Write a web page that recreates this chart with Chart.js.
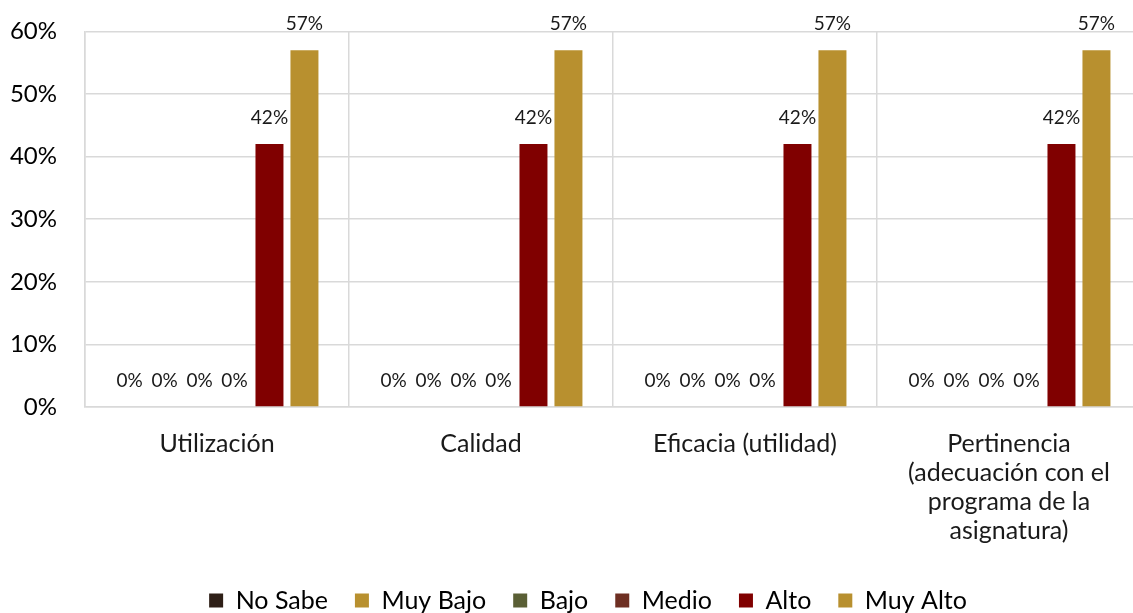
<!DOCTYPE html>
<html>
<head>
<meta charset="utf-8">
<script src="https://cdn.jsdelivr.net/npm/chart.js@4.4.1/dist/chart.umd.min.js"></script>
<style>
  html, body { margin: 0; padding: 0; background: #fff; overflow: hidden; }
  #wrap { width: 1176px; height: 634px; margin-top: -11px; }
</style>
</head>
<body>
<div id="wrap"><canvas id="chart"></canvas></div>
<script>
const categories = [
  'Utilización',
  'Calidad',
  'Eficacia (utilidad)',
  ['Pertinencia', '(adecuación con el', 'programa de la', 'asignatura)']
]
const seriesNames = ['No Sabe', 'Muy Bajo', 'Bajo', 'Medio', 'Alto', 'Muy Alto']
const noSabe = [0, 0, 0, 0]
const muyBajo = [0, 0, 0, 0]
const bajo = [0, 0, 0, 0]
const medio = [0, 0, 0, 0]
const alto = [0.42, 0.42, 0.42, 0.42]
const muyAlto = [0.57, 0.57, 0.57, 0.57]
const yTicks = [0, 0.1, 0.2, 0.3, 0.4, 0.5, 0.6]

const colors = ['#2e1f17', '#b8902f', '#5a5f35', '#6e2f22', '#800000', '#b8902f']
const FONT = 'Lato, "Open Sans", sans-serif'
const TEXT = '#1a1a1a'

const valueLabels = {
  id: 'valueLabels',
  afterDatasetsDraw(chart) {
    const ctx = chart.ctx
    ctx.save()
    ctx.font = `19px ${FONT}`
    ctx.fillStyle = TEXT
    ctx.textAlign = 'center'
    ctx.textBaseline = 'middle'
    chart.data.datasets.forEach((ds, i) => {
      chart.getDatasetMeta(i).data.forEach((bar, j) => {
        ctx.fillText(Math.round(ds.data[j] * 100) + '%', bar.x, bar.y - 26)
      })
    })
    ctx.restore()
  }
}

const seriesData = [noSabe, muyBajo, bajo, medio, alto, muyAlto]

new Chart(document.getElementById('chart'), {
  type: 'bar',
  data: {
    labels: categories,
    datasets: seriesNames.map((name, i) => ({
      label: name,
      data: seriesData[i],
      backgroundColor: colors[i],
      barPercentage: 0.8,
      categoryPercentage: 0.795
    }))
  },
  plugins: [valueLabels],
  options: {
    responsive: true,
    maintainAspectRatio: false,
    animation: false,
    layout: { padding: { top: 13, left: 0, right: 0, bottom: 0 } },
    plugins: {
      tooltip: { enabled: false },
      legend: {
        position: 'bottom',
        labels: {
          font: { family: FONT, size: 25 },
          color: '#000',
          boxWidth: 14,
          boxHeight: 14,
          padding: 27
        }
      }
    },
    scales: {
      x: {
        grid: { color: '#d9d9d9', lineWidth: 1.5, offset: true, drawTicks: false },
        border: { color: '#d9d9d9', width: 1.5 },
        ticks: {
          font: { family: FONT, size: 25, lineHeight: 1.16 },
          color: TEXT,
          padding: 22,
          maxRotation: 0,
          autoSkip: false
        },
        afterFit(scale) { scale.height = 154 }
      },
      y: {
        min: 0,
        max: 0.6,
        afterBuildTicks(scale) { scale.ticks = yTicks.map(v => ({ value: v })) },
        grid: { color: '#d9d9d9', lineWidth: 1.5, drawTicks: false },
        border: { color: '#d9d9d9', width: 1.5 },
        ticks: {
          font: { family: FONT, size: 24 },
          color: '#000',
          padding: 28,
          callback: v => Math.round(v * 100) + '%'
        },
        afterFit(scale) { scale.width = 85 }
      },
      // empty right-hand spacer so the legend centres on the full canvas
      yRight: {
        position: 'right',
        grid: { display: false },
        border: { display: false },
        ticks: { display: false },
        afterFit(scale) { scale.width = 35 }
      }
    }
  }
})
</script>
</body>
</html>
